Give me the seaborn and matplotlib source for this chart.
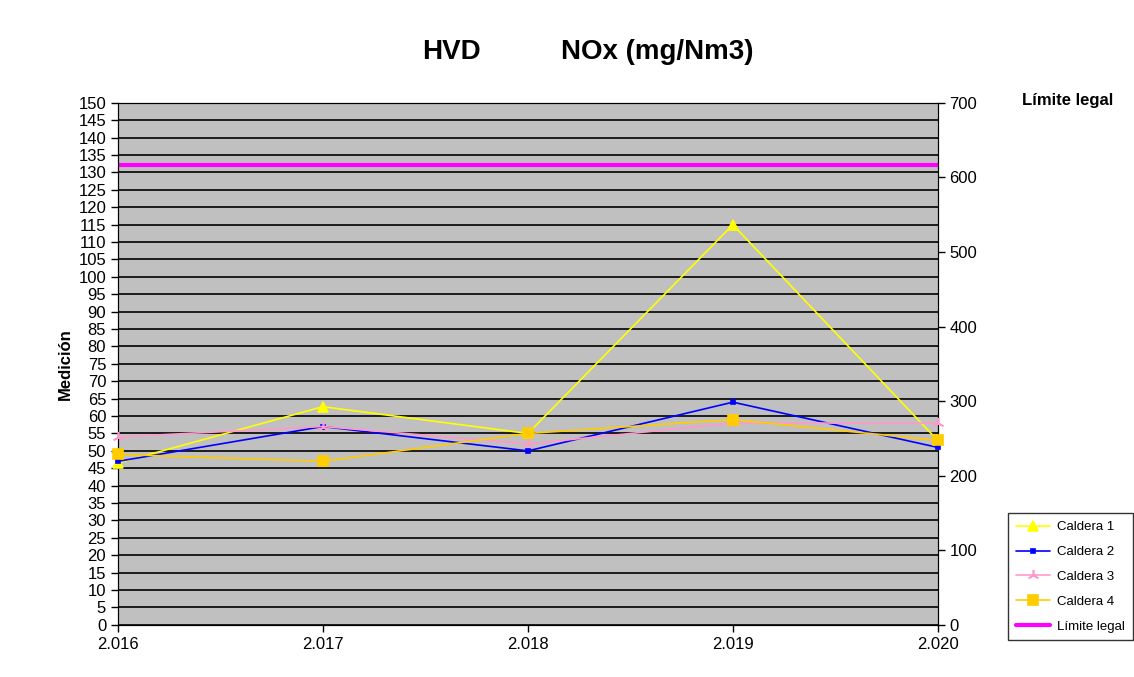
import numpy as np
import pandas as pd
import matplotlib
matplotlib.use('Agg')
import matplotlib.pyplot as plt
import seaborn as sns

years = [2016, 2017, 2018, 2019, 2020]
year_labels = ['2.016', '2.017', '2.018', '2.019', '2.020']
caldera1 = [46.5, 62.7, 55, 115, 53]
caldera2 = [47, 57, 50, 64, 51]
caldera3 = [54, 57, 52, 58, 58]
caldera4 = [49, 47, 55, 59, 53]
limite = [617, 617, 617, 617, 617]

sns.set_style('white')
plt.rcParams['font.family'] = ['Liberation Sans', 'DejaVu Sans']
plt.rcParams['text.color'] = 'black'
plt.rcParams['xtick.color'] = 'black'
plt.rcParams['ytick.color'] = 'black'
plt.rcParams['axes.labelcolor'] = 'black'

fig = plt.figure(figsize=(11.34, 6.77), dpi=100)
ax = fig.add_axes([0.104, 0.077, 0.723, 0.771])

series = [
    ('Caldera 1', caldera1, '#FFFF00', '^', 7),
    ('Caldera 2', caldera2, '#0000FF', 's', 3),
    ('Caldera 3', caldera3, '#FF99CC', (3, 2, 0), 8),
    ('Caldera 4', caldera4, '#FFCC00', 's', 7),
]
handles = []
for name, vals, col, mk, ms in series:
    sns.lineplot(x=years, y=vals, ax=ax, color=col, marker=mk, markersize=ms,
                 markeredgecolor=col, markeredgewidth=1.2, linewidth=1.2, label=name,
                 legend=False, clip_on=False, zorder=3)
    handles.append(ax.lines[-1])

ax.set_xlim(2016, 2020)
ax.set_ylim(0, 150)
ax.set_yticks(np.arange(0, 151, 5))
ax.set_xticks(years)
ax.set_xticklabels(year_labels)
for s in ax.spines.values():
    s.set_color('black')
ax.tick_params(axis='both', labelsize=12, direction='out', length=5, left=True, bottom=True, width=1)
ax.set_ylabel('Medición', fontsize=12, fontweight='bold')

ax2 = ax.twinx()
sns.lineplot(x=years, y=limite, ax=ax2, color='#FF00FF', linewidth=3, label='Límite legal', legend=False)
handles.append(ax2.lines[-1])
ax2.set_ylim(0, 700)
ax2.set_yticks(np.arange(0, 701, 100))
ax2.tick_params(axis='y', labelsize=12, direction='out', length=5, right=True, width=1)
for s in ax2.spines.values():
    s.set_color('black')
ax.set_zorder(ax2.get_zorder() + 1)
ax.patch.set_visible(False)
ax2.patch.set_visible(True)
ax2.patch.set_facecolor('#C0C0C0')
ax.grid(axis='y', color='black', linewidth=1.2)
ax.set_axisbelow(True)

fig.text(0.982, 0.851, 'Límite legal', fontsize=12, fontweight='bold', ha='right', va='center')
fig.text(0.398, 0.923, 'HVD', fontsize=20, fontweight='bold', ha='center', va='center')
fig.text(0.58, 0.923, 'NOx (mg/Nm3)', fontsize=20, fontweight='bold', ha='center', va='center')

leg = fig.legend(handles=handles, labels=['Caldera 1', 'Caldera 2', 'Caldera 3', 'Caldera 4', 'Límite legal'],
                 loc='lower right', bbox_to_anchor=(1.0, 0.052), fontsize=9.5, frameon=True,
                 fancybox=False, edgecolor='black', borderpad=0.6, labelspacing=0.95, handlelength=2.6,
                 handletextpad=0.5, borderaxespad=0.1)
leg.get_frame().set_linewidth(1)

fig.savefig('out.png', dpi=100)
